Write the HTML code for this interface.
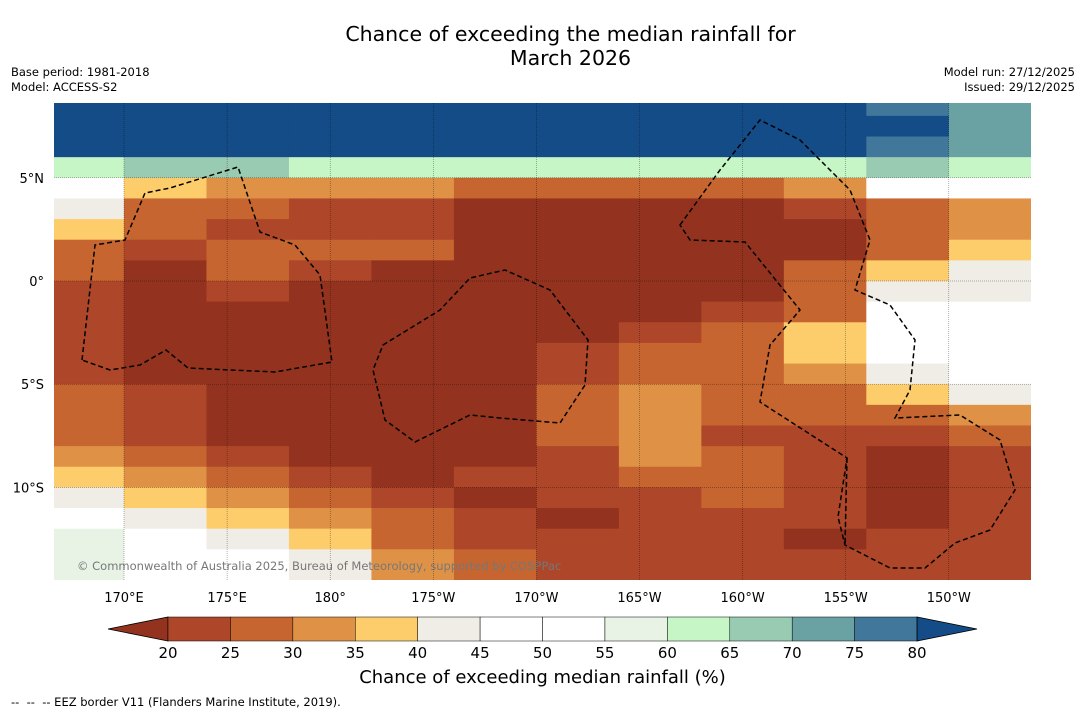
<!DOCTYPE html>
<html><head><meta charset="utf-8">
<style>
body{margin:0;background:#fff;font-family:"DejaVu Sans","Liberation Sans",sans-serif;}
#wrap{position:relative;width:1085px;height:713px;overflow:hidden;background:#fff}
.t{position:absolute;white-space:nowrap;color:#000}
</style></head><body>
<div id="wrap">
<div class="t" style="left:0;width:1141px;text-align:center;top:22px;font-size:20.5px;line-height:24px">Chance of exceeding the median rainfall for<br>March 2026</div>
<div class="t" style="left:11px;top:65px;font-size:11.5px;line-height:15px">Base period: 1981-2018<br>Model: ACCESS-S2</div>
<div class="t" style="right:10px;top:65px;font-size:11.5px;line-height:15px;text-align:right">Model run: 27/12/2025<br>Issued: 29/12/2025</div>
<svg id="svg" width="1085" height="713" style="position:absolute;left:0;top:0"></svg>
<div class="t" style="left:0;width:1085px;text-align:center;top:667px;font-size:18px">Chance of exceeding median rainfall (%)</div>
<div class="t" style="left:11px;top:695px;font-size:11.5px">--&nbsp; --&nbsp; -- EEZ border V11 (Flanders Marine Institute, 2019).</div>
</div>
<script>
const lons=[166,170,174,178,182,186,190,194,198,202,206,210];
const lats=[8.5,7.5,6.5,5.5,4.5,3.5,2.5,1.5,0.5,-0.5,-1.5,-2.5,-3.5,-4.5,-5.5,-6.5,-7.5,-8.5,-9.5,-10.5,-11.5,-12.5,-13.5,-14.5];
const values=[
[85,85,85,85,85,85,85,85,85,85,78,72],
[85,85,85,85,85,85,85,85,85,85,82,72],
[82,82,82,82,82,82,82,82,82,80,75,72],
[62,68,66,64,62,62,62,62,62,62,66,62],
[48,38,32,32,32,28,28,28,28,30,45,45],
[42,28,28,22,22,18,18,18,18,22,28,32],
[35,28,22,22,22,18,18,18,18,18,28,32],
[28,22,28,28,28,18,18,18,18,18,28,35],
[28,18,28,22,18,18,18,18,18,28,38,42],
[22,18,22,18,18,18,18,18,18,28,42,42],
[22,18,18,18,18,18,18,18,22,28,45,45],
[22,18,18,18,18,18,18,22,28,38,50,50],
[22,18,18,18,18,18,22,28,28,35,50,50],
[22,18,18,18,18,18,22,28,28,30,40,45],
[28,22,18,18,18,18,28,32,28,28,35,40],
[28,22,18,18,18,18,28,32,28,28,28,32],
[28,22,18,18,18,18,28,32,22,22,22,28],
[32,28,22,18,18,18,22,32,28,22,18,22],
[38,32,28,22,18,22,22,28,28,22,18,22],
[42,38,32,28,22,18,22,22,28,22,18,22],
[45,42,38,32,28,22,18,22,22,22,18,22],
[55,45,42,38,28,22,22,22,22,18,22,22],
[58,50,45,42,32,28,22,22,22,22,22,22],
[58,50,45,42,32,28,22,22,22,22,22,22]];
const binEdges=[20,25,30,35,40,45,50,55,60,65,70,75,80];
const binColors=["#93331f","#ae4629","#c6652f","#df9246","#fdcd6c","#f0ece6","#ffffff","#ffffff","#e8f3e6","#c6f6c6","#99cbb3","#6aa2a3","#41779a","#134c87"];
const xTicks=[170,175,180,185,190,195,200,205,210];
const xTickLabels=["170°E","175°E","180°","175°W","170°W","165°W","160°W","155°W","150°W"];
const yTicks=[5,0,-5,-10];
const yTickLabels=["5°N","0°","5°S","10°S"];
const L=54,R=1031,T=103,B=580;
const xS=lon=>124+(lon-170)*20.62;
const yS=lat=>281-lat*20.64;
const NS="http://www.w3.org/2000/svg";
const svg=document.getElementById('svg');
function mk(tag,attrs,parent){const e=document.createElementNS(NS,tag);for(const k in attrs)e.setAttribute(k,attrs[k]);(parent||svg).appendChild(e);return e;}
function colorFor(v){let i=0;while(i<binEdges.length&&v>=binEdges[i])i++;return binColors[i];}
const defs=mk('defs',{});const cp=mk('clipPath',{id:'mc'},defs);mk('rect',{x:L,y:T,width:R-L,height:B-T},cp);
const g=mk('g',{'clip-path':'url(#mc)'});


lats.forEach((la,i)=>{lons.forEach((lo,j)=>{
 const x0=xS(lo),x1=xS(lo+4),y0=yS(la+0.5),y1=yS(la-0.5);
 const r=mk('rect',{x:x0,y:y0,width:x1-x0+0.5,height:y1-y0+0.5,fill:colorFor(values[i][j])},g);
 
 
});});
xTicks.forEach((t,i)=>{const x=xS(t);
 const l=mk('line',{x1:x,x2:x,y1:T,y2:B,stroke:'#000','stroke-width':0.5,'stroke-dasharray':'1,1',opacity:0.6});
 
 const tx=mk('text',{x:x,y:602,'font-size':13,'text-anchor':'middle','font-family':'DejaVu Sans, sans-serif'});tx.textContent=xTickLabels[i];
 });
yTicks.forEach((t,i)=>{const y=yS(t);
 const l=mk('line',{x1:L,x2:R,y1:y,y2:y,stroke:'#000','stroke-width':0.5,'stroke-dasharray':'1,1',opacity:0.6});
 
 const tx=mk('text',{x:44,y:y+5,'font-size':13,'text-anchor':'end','font-family':'DejaVu Sans, sans-serif'});tx.textContent=yTickLabels[i];
 });
const eez=["M82,360 L95,245 L125,240 L145,193 L170,188 L238,167 L260,232 L295,245 L320,275 L332,362 L275,372 L188,368 L166,350 L140,365 L110,370 L82,360",
"M383,345 L440,310 L470,278 L505,270 L550,290 L588,340 L585,385 L560,423 L500,418 L470,415 L415,442 L385,420 L373,370 Z",
"M680,225 L720,170 L760,120 L800,140 L850,190 L870,240 L855,290 L890,305 L915,340 L910,390 L895,418 L960,415 L1000,440 L1015,490 L990,530 L955,543 L925,568 L890,568 L845,545 L838,517 L847,458 L760,402 L770,345 L800,310 L745,242 L690,240 Z",
"M847,458 L845,545"];
eez.forEach(d=>{const p=mk('path',{d:d,fill:'none',stroke:'#000','stroke-width':1.5,'stroke-dasharray':'5,3'},g);
 });
const cr=mk('text',{x:77,y:570,'font-size':11.5,fill:'#777','font-family':'DejaVu Sans, sans-serif'},g);
cr.textContent="© Commonwealth of Australia 2025, Bureau of Meteorology, supported by COSPPac";

const cbL=168,cbW=62.42,cbT=617,cbH=24;
const cbE=mk('polygon',{points:`108,${cbT+cbH/2} ${cbL},${cbT} ${cbL},${cbT+cbH}`,fill:binColors[0],stroke:'#000','stroke-width':0.8});

for(let i=0;i<12;i++){const r=mk('rect',{x:cbL+i*cbW,y:cbT,width:cbW,height:cbH,fill:binColors[i+1],stroke:'#000','stroke-width':0.5});
 }
const hx=cbL+12*cbW;
const cbH2=mk('polygon',{points:`${hx},${cbT} ${hx},${cbT+cbH} 977,${cbT+cbH/2}`,fill:binColors[13],stroke:'#000','stroke-width':0.8});

binEdges.forEach((v,i)=>{const tx=mk('text',{x:cbL+i*cbW,y:658,'font-size':15,'text-anchor':'middle','font-family':'DejaVu Sans, sans-serif'});tx.textContent=v;
 });
</script>
</body></html>
